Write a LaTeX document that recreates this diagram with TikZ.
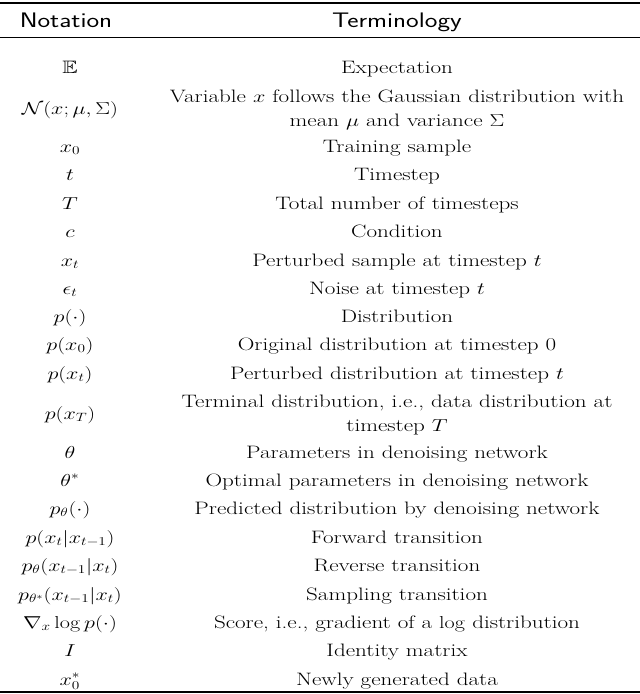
\documentclass[tikz,border=0pt]{standalone}
\usepackage{amssymb}
\begin{document}
\begin{tikzpicture}[x=1pt,y=-1pt,
  cell/.style={anchor=base,inner sep=0pt,font=\fontsize{18}{21}\selectfont},
  head/.style={anchor=base,inner sep=0pt,font=\fontsize{21}{24}\selectfont\sffamily}]
\newcommand\sx[1]{\scalebox{1.28}[1]{#1}}
\useasboundingbox (0,0) rectangle (640,694);
\draw[line width=1.2pt] (0,3) -- (640,3);
\draw[line width=0.7pt] (0,37) -- (640,37);
\draw[line width=1.2pt] (0,692) -- (640,692);
\node[head] (h1) at (66,27) {\sx{Notation}};
\node[head] (h2) at (397,27) {\sx{Terminology}};
\def\R#1#2#3{\node[cell] at (70,#1) {\sx{$#2$}}; \node[cell] at (397,#1) {\sx{#3}};}
\R{73}{\mathbb{E}}{Expectation}
\node[cell] (n2) at (70,114) {\sx{$\mathcal{N}(x;\mu,\Sigma)$}};
\node[cell] (t2a) at (397,102) {\sx{Variable $x$ follows the Gaussian distribution with}};
\node[cell] (t2b) at (397,126) {\sx{mean $\mu$ and variance $\Sigma$}};
\R{152}{x_0}{Training sample}
\R{180}{t}{Timestep}
\R{209}{T}{Total number of timesteps}
\R{237}{c}{Condition}
\R{266}{x_t}{Perturbed sample at timestep $t$}
\R{294}{\epsilon_t}{Noise at timestep $t$}
\R{322}{p(\cdot)}{Distribution}
\R{350}{p(x_0)}{Original distribution at timestep 0}
\R{379}{p(x_t)}{Perturbed distribution at timestep $t$}
\node[cell] (n12) at (70,419) {\sx{$p(x_T)$}};
\node[cell] (t12a) at (397,407) {\sx{Terminal distribution, i.e., data distribution at}};
\node[cell] (t12b) at (397,431) {\sx{timestep $T$}};
\R{458}{\theta}{Parameters in denoising network}
\R{486}{\theta^*}{Optimal parameters in denoising network}
\R{514}{p_\theta(\cdot)}{Predicted distribution by denoising network}
\R{543}{p(x_t|x_{t-1})}{Forward transition}
\R{571}{p_\theta(x_{t-1}|x_t)}{Reverse transition}
\R{600}{p_{\theta^*}(x_{t-1}|x_t)}{Sampling transition}
\R{628}{\nabla_x\log p(\cdot)}{Score, i.e., gradient of a $\log$ distribution}
\R{656}{I}{Identity matrix}
\R{685}{x_0^*}{Newly generated data}
\end{tikzpicture}
\end{document}
